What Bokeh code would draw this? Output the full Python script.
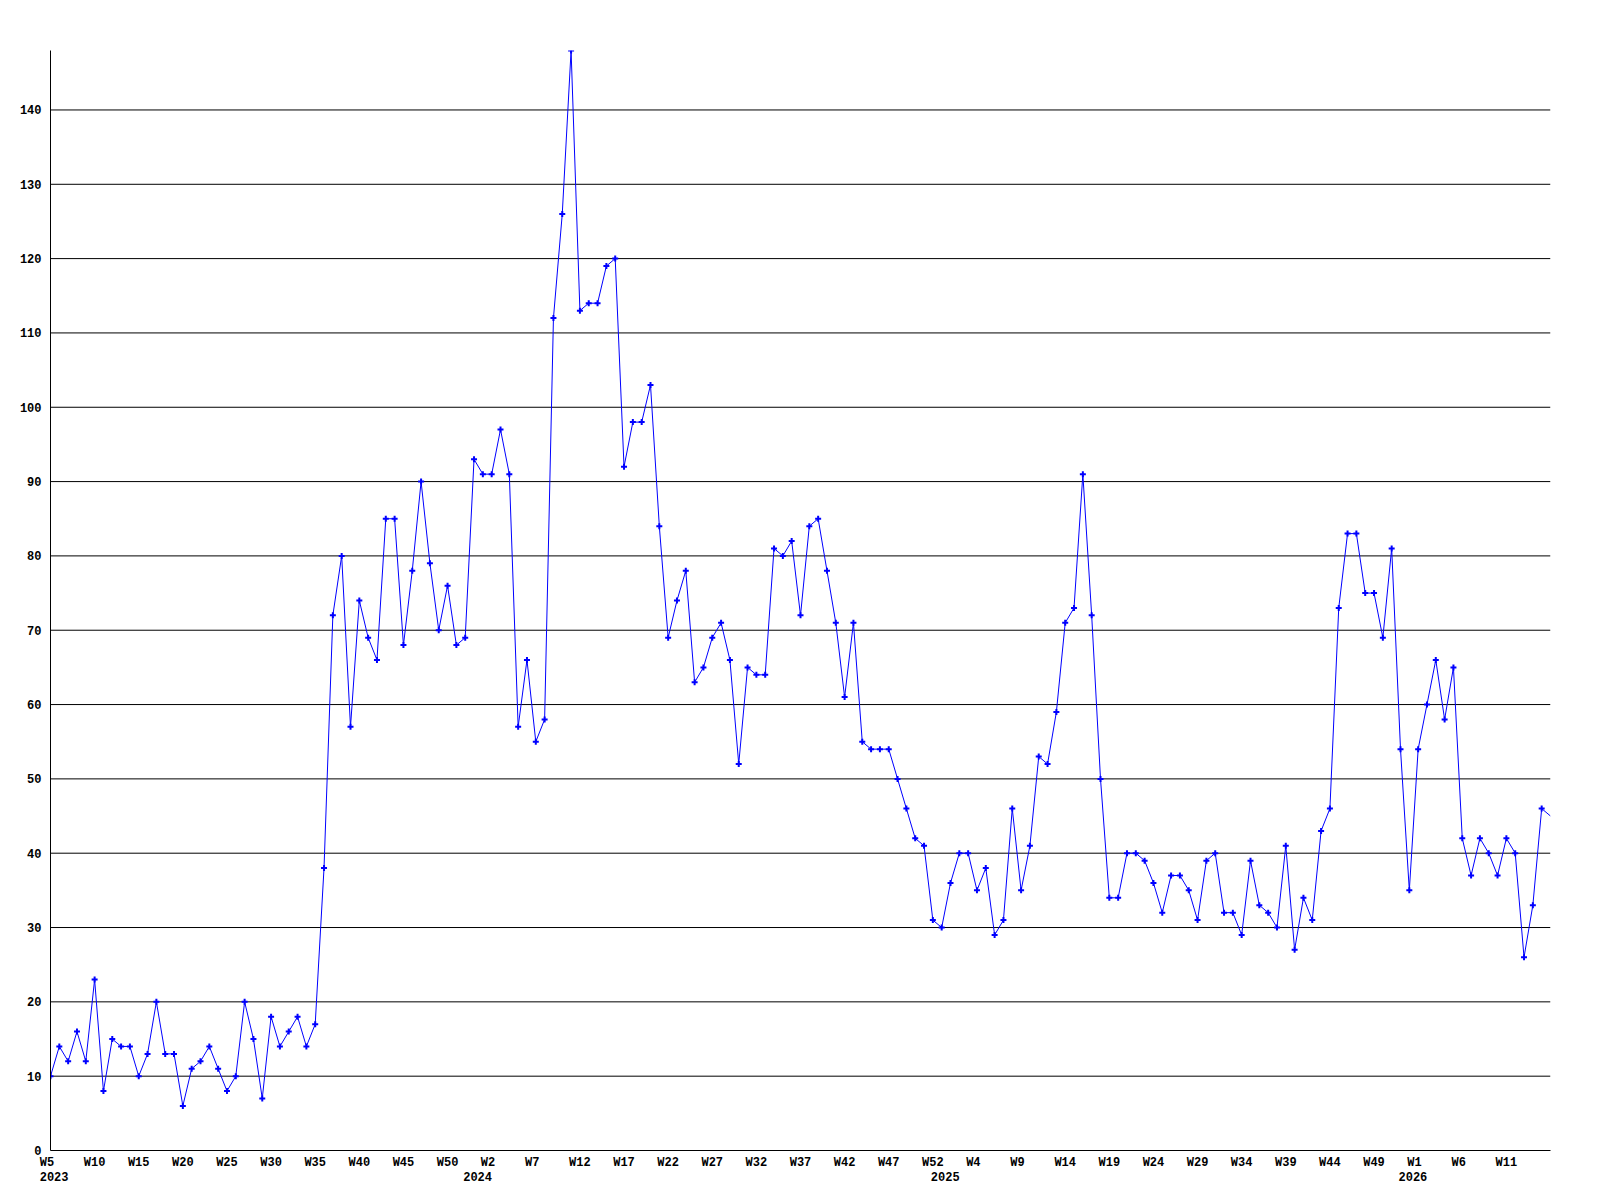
from bokeh.plotting import figure
from bokeh.models import (Range1d, LinearAxis, FixedTicker, ColumnDataSource)
from bokeh.embed import file_html
from bokeh.resources import INLINE

# Weekly values, 2023 W5 .. 2026 W16
values = [
    10, 14, 12, 16, 12, 23, 8, 15, 14, 14,
    10, 13, 20, 13, 13, 6, 11, 12, 14, 11,
    8, 10, 20, 15, 7, 18, 14, 16, 18, 14,
    17, 38, 72, 80, 57, 74, 69, 66, 85, 85,
    68, 78, 90, 79, 70, 76, 68, 69, 93, 91,
    91, 97, 91, 57, 66, 55, 58, 112, 126, 148,
    113, 114, 114, 119, 120, 92, 98, 98, 103, 84,
    69, 74, 78, 63, 65, 69, 71, 66, 52, 65,
    64, 64, 81, 80, 82, 72, 84, 85, 78, 71,
    61, 71, 55, 54, 54, 54, 50, 46, 42, 41,
    31, 30, 36, 40, 40, 35, 38, 29, 31, 46,
    35, 41, 53, 52, 59, 71, 73, 91, 72, 50,
    34, 34, 40, 40, 39, 36, 32, 37, 37, 35,
    31, 39, 40, 32, 32, 29, 39, 33, 32, 30,
    41, 27, 34, 31, 43, 46, 73, 83, 83, 75,
    75, 69, 81, 54, 35, 54, 60, 66, 58, 65,
    42, 37, 42, 40, 37, 42, 40, 26, 33, 46,
    45,
]

# week tick labels, one every 5 weeks starting at the first week
week_labels = ["W5", "W10", "W15", "W20", "W25", "W30", "W35", "W40", "W45", "W50",
               "W2", "W7", "W12", "W17", "W22", "W27", "W32", "W37", "W42", "W47",
               "W52", "W4", "W9", "W14", "W19", "W24", "W29", "W34", "W39", "W44",
               "W49", "W1", "W6", "W11"]
week_label_step = 5

# year labels and the week index where each year begins
year_labels = ["2023", "2024", "2025", "2026"]
year_start_index = [0, 48, 101, 154]

y_ticks = list(range(0, 150, 10))

n = len(values)
x = list(range(n))

FONT = "Liberation Mono"
FS = "12px"
CHAR_W = 7.2

FW, FH = 1500, 1100
x_end = n - 1
y_end = max(values)

p = figure(frame_width=FW, frame_height=FH,
           min_border_left=50, min_border_top=50, min_border_right=30, min_border_bottom=10,
           x_range=Range1d(0, x_end), y_range=Range1d(0, y_end),
           output_backend="svg", toolbar_location=None,
           x_axis_type=None, y_axis_type=None)
p.outline_line_color = None
p.background_fill_color = "white"
p.border_fill_color = "white"

# Y axis
yaxis = LinearAxis(ticker=FixedTicker(ticks=y_ticks))
yaxis.major_tick_out = 0
yaxis.major_tick_in = 0
yaxis.minor_tick_out = 0
yaxis.minor_tick_in = 0
yaxis.axis_line_color = "black"
yaxis.axis_line_width = 1
yaxis.major_label_standoff = 9
yaxis.major_label_text_font = FONT
yaxis.major_label_text_font_size = FS
yaxis.major_label_text_font_style = "bold"
yaxis.major_label_text_color = "black"
p.add_layout(yaxis, "left")

# X axis (week labels) -- padded so labels start a fixed distance left of their tick
wk_ticks = [i * week_label_step for i in range(len(week_labels))]
overrides = {}
for t, lab in zip(wk_ticks, week_labels):
    overrides[t] = lab + "\u00a0" * (3 - len(lab))
xaxis = LinearAxis(ticker=FixedTicker(ticks=wk_ticks), major_label_overrides=overrides)
xaxis.major_tick_out = 0
xaxis.major_tick_in = 0
xaxis.minor_tick_out = 0
xaxis.minor_tick_in = 0
xaxis.axis_line_color = "black"
xaxis.axis_line_width = 1
xaxis.major_label_standoff = 5
xaxis.major_label_text_font = FONT
xaxis.major_label_text_font_size = FS
xaxis.major_label_text_font_style = "bold"
xaxis.major_label_text_color = "black"
p.add_layout(xaxis, "below")

# Year axis: shifted range so 4-char labels start where the week labels start
shift = (0.5 * CHAR_W) * x_end / FW
p.extra_x_ranges = {"yr": Range1d(-shift, x_end - shift)}
yr_over = {t: lab for t, lab in zip(year_start_index, year_labels)}
yaxis2 = LinearAxis(x_range_name="yr", ticker=FixedTicker(ticks=year_start_index),
                    major_label_overrides=yr_over)
yaxis2.axis_line_color = None
yaxis2.major_tick_out = 0
yaxis2.major_tick_in = 0
yaxis2.minor_tick_out = 0
yaxis2.minor_tick_in = 0
yaxis2.major_label_standoff = -1
yaxis2.major_label_text_font = FONT
yaxis2.major_label_text_font_size = FS
yaxis2.major_label_text_font_style = "bold"
yaxis2.major_label_text_color = "black"
p.add_layout(yaxis2, "below")

# horizontal grid lines
gl = y_ticks[1:]
p.segment(x0=[0] * len(gl), x1=[x_end] * len(gl),
          y0=gl, y1=gl, line_color="black", line_width=1)

src = ColumnDataSource(dict(x=x, y=values))
p.line("x", "y", source=src, line_color="#0000ff", line_width=1)
msrc = ColumnDataSource(dict(x=x[:-1], y=values[:-1]))
p.scatter("x", "y", source=msrc, marker="cross", size=6, line_width=2,
          line_color="#0000ff")

open("out.html", "w").write(file_html(p, INLINE))
